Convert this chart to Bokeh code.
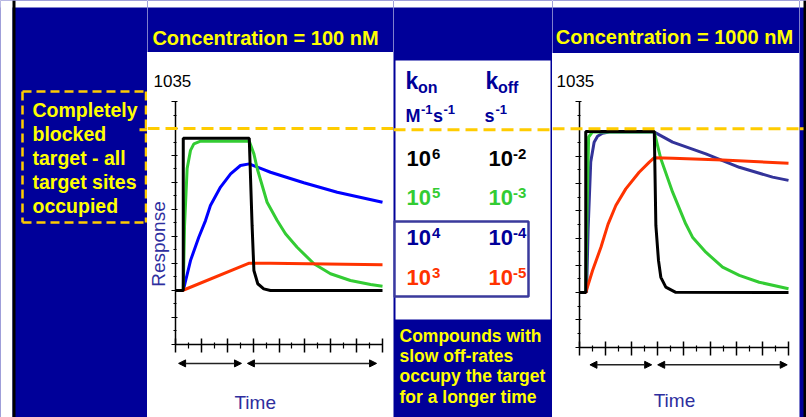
from bokeh.plotting import figure
from bokeh.layouts import row, column
from bokeh.models import Range1d, LinearAxis, FixedTicker, Span, Arrow, NormalHead, Label
from bokeh.embed import file_html
from bokeh.resources import INLINE
from bokeh.core.properties import value

NAVY = "#000099"
YELLOW = "#ffff00"
GOLD = "#ffcc00"
FONT = "Liberation Sans"
AXIS_BLUE = "#2e2e9e"
SHIFT = 0.33  # compensation (in em) for the svg text baseline placement

# ---------------- data ----------------
x_ticks = [0, 1, 2, 3, 4, 5, 6, 7, 8]
y_ticks = [0, 1, 2, 3, 4, 5, 6, 7, 8, 9]
y_top_label = "1035"
full_occupancy = 8.0

titles = ["Concentration = 100 nM", "Concentration = 1000 nM"]

# Panel 1: 100 nM
t1_black = [0, 0.30, 0.30, 2.85, 2.96, 3.03, 3.18, 3.41, 3.67, 8.0]
r1_black = [2.0, 2.0, 7.64, 7.64, 4.41, 2.74, 2.25, 2.06, 2.0, 2.0]
t1_green = [0.30, 0.35, 0.45, 0.58, 0.71, 0.97, 2.85, 3.03, 3.16, 3.54, 3.93, 4.25, 4.70, 5.35, 5.99, 6.76, 7.54, 8.0]
r1_green = [2.0, 4.41, 6.52, 7.19, 7.43, 7.53, 7.53, 7.06, 6.51, 5.27, 4.59, 4.10, 3.60, 2.99, 2.62, 2.37, 2.22, 2.16]
t1_blue = [0.30, 0.58, 0.90, 1.16, 1.35, 1.74, 2.13, 2.51, 2.85, 3.67, 4.96, 6.25, 8.0]
r1_blue = [2.0, 3.11, 3.97, 4.59, 5.15, 5.83, 6.32, 6.63, 6.69, 6.38, 5.99, 5.64, 5.27]
t1_red = [0, 0.27, 2.85, 3.67, 8.0]
r1_red = [2.0, 2.0, 3.01, 3.01, 2.95]

# Panel 2: 1000 nM
t2_black = [0, 0.25, 0.25, 2.87, 2.93, 3.03, 3.12, 3.31, 3.69, 8.0]
r2_black = [2.0, 2.0, 7.90, 7.90, 4.46, 3.18, 2.56, 2.20, 2.01, 2.0]
t2_green = [0.25, 0.30, 0.36, 0.50, 2.87, 3.12, 3.57, 4.07, 4.33, 4.84, 5.48, 6.12, 6.88, 8.0]
r2_green = [2.0, 5.0, 7.7, 7.88, 7.88, 6.90, 5.68, 4.52, 4.03, 3.48, 2.93, 2.63, 2.38, 2.14]
t2_blue = [0.28, 0.34, 0.44, 0.57, 0.70, 0.89, 1.15, 2.87, 3.57, 4.84, 6.12, 7.39, 8.0]
r2_blue = [2.0, 4.3, 6.78, 7.51, 7.73, 7.84, 7.88, 7.88, 7.51, 7.08, 6.59, 6.23, 6.11]
t2_red = [0, 0.25, 0.51, 0.83, 1.10, 1.40, 1.78, 2.29, 2.68, 2.87, 3.57, 5.48, 8.0]
r2_red = [2.0, 2.0, 2.81, 3.66, 4.50, 5.19, 5.80, 6.41, 6.78, 6.94, 6.92, 6.86, 6.74]

# association / dissociation phase arrows (time units)
phase1_start = [0.12, 2.78]
phase1_end = [2.55, 7.77]
phase2_start = [0.41, 3.00]
phase2_end = [2.77, 7.95]

# rate-constant table
kon_exp = ["6", "5", "4", "3"]
koff_exp = ["-2", "-3", "-4", "-5"]
row_colors = ["#000000", "#33cc33", "#000099", "#ff3300"]

left_note = ["Completely", "blocked", "target - all", "target sites", "occupied"]
mid_note = ["Compounds with", "slow off-rates", "occupy the target", "for a longer time"]

H = 417

# ---------------- helpers ----------------
def canvas(w, h, bg=NAVY, top_white=0):
    f = figure(width=w, height=h, x_range=Range1d(0, w), y_range=Range1d(h, 0),
               x_axis_location=None, y_axis_location=None, toolbar_location=None,
               output_backend="svg", min_border=0, background_fill_color=bg,
               border_fill_color=bg, outline_line_color=None)
    f.grid.visible = False
    if top_white:
        f.quad(left=[0], right=[w], top=[0], bottom=[top_white], fill_color="white", line_color=None)
    return f


def txt(f, x, y, s, size, color, bold=True, align="left"):
    f.text(x=[x], y=[y - SHIFT * size], text=[s], text_font=value(FONT),
           text_font_size=f"{size}px", text_color=color,
           text_font_style="bold" if bold else "normal",
           text_align=align, text_baseline="alphabetic")


def dashed_h(f, x0, x1, y):
    f.segment(x0=[x0], y0=[y], x1=[x1], y1=[y], line_color=GOLD, line_width=3, line_dash="12 6")


def plot_panel(w, h, xr, yr, series, phase_s, phase_e, phase_y, label_pos, time_pos, resp_pos=None):
    sx = w / (xr[1] - xr[0])
    sy = h / (yr[1] - yr[0])
    p = figure(width=w, height=h, x_range=Range1d(*xr), y_range=Range1d(*yr),
               x_axis_location=None, y_axis_location=None, toolbar_location=None,
               output_backend="svg", min_border=0, background_fill_color="white",
               border_fill_color="white", outline_line_color=None)
    p.grid.visible = False
    xa = LinearAxis(fixed_location=0, bounds=(x_ticks[0], x_ticks[-1]),
                    ticker=FixedTicker(ticks=x_ticks, minor_ticks=[v + 0.5 for v in x_ticks[:-1]]),
                    major_label_overrides={v: "" for v in x_ticks},
                    axis_line_width=1.5, major_tick_line_width=1.5, minor_tick_line_width=1.2,
                    major_tick_in=6, major_tick_out=8, minor_tick_in=2, minor_tick_out=4)
    ya = LinearAxis(fixed_location=0, bounds=(y_ticks[0], y_ticks[-1]),
                    ticker=FixedTicker(ticks=y_ticks, minor_ticks=[v + 0.5 for v in y_ticks[:-1]]),
                    major_label_overrides={v: "" for v in y_ticks},
                    axis_line_width=1.5, major_tick_line_width=1.2, minor_tick_line_width=1.0,
                    major_tick_in=2, major_tick_out=4, minor_tick_in=1, minor_tick_out=2)
    p.add_layout(xa, "below")
    p.add_layout(ya, "left")
    p.add_layout(Span(location=full_occupancy, dimension="width", line_color=GOLD,
                      line_width=3, line_dash="12 6"))
    for t, r, c in series:
        p.line(t, r, line_color=c, line_width=3)
    for s, e in zip(phase_s, phase_e):
        p.add_layout(Arrow(x_start=s, y_start=phase_y, x_end=e, y_end=phase_y,
                           line_color="#222222", line_width=1.5,
                           start=NormalHead(size=7, fill_color="black", line_color="black"),
                           end=NormalHead(size=7, fill_color="black", line_color="black")))
    p.add_layout(Label(x=label_pos[0], y=label_pos[1] + SHIFT * 17 / sy, text=y_top_label,
                       text_font=FONT, text_font_size="17px", text_color="black",
                       text_baseline="alphabetic"))
    p.add_layout(Label(x=time_pos[0], y=time_pos[1] + SHIFT * 19 / sy, text="Time", text_font=FONT,
                       text_font_size="19px", text_color=AXIS_BLUE, text_align="center",
                       text_baseline="alphabetic"))
    if resp_pos is not None:
        p.add_layout(Label(x=resp_pos[0] - SHIFT * 19 / sx, y=resp_pos[1], text="Response",
                           text_font=FONT, text_font_size="19px", text_color=AXIS_BLUE,
                           text_align="center", text_baseline="alphabetic", angle=1.5708))
    return p

# ---------------- left column (x 0..147) ----------------
left = canvas(147, H, top_white=7)
left.quad(left=[0], right=[12], top=[0], bottom=[H], fill_color="white", line_color=None)
left.quad(left=[12], right=[15], top=[0], bottom=[H], fill_color="black", line_color=None)
bx0, bx1, by0, by1 = 22, 145.5, 91, 222
left.multi_line(xs=[[bx0, bx1], [bx0, bx1], [bx0, bx0], [bx1, bx1]],
                ys=[[by0, by0], [by1, by1], [by0, by1], [by0, by1]],
                line_color=GOLD, line_width=2.5, line_dash="9 5")
dashed_h(left, 139, 147, 129.3)
for i, s in enumerate(left_note):
    txt(left, 32, 116 + 24 * i, s, 19.5, YELLOW)

# ---------------- panel 1 (x 147..393) ----------------
title1 = canvas(246, 52, top_white=7)
txt(title1, 118, 44, titles[0], 20, YELLOW, align="center")
plot1 = plot_panel(246, 361, (-1.082, 8.425), (-2.556, 10.815),
                   [(t1_blue, r1_blue, "#0000ff"), (t1_green, r1_green, "#33cc33"),
                    (t1_red, r1_red, "#ff3300"), (t1_black, r1_black, "#000000")],
                   phase1_start, phase1_end, -0.70, (-0.85, 9.556), (3.08, -2.39), (-0.425, 3.72))
foot1 = canvas(246, 4)
col1 = column(title1, plot1, foot1)

# ---------------- middle table (x 393..552) ----------------
mid = canvas(159, H, top_white=7)
mid.quad(left=[2], right=[157], top=[60], bottom=[319], fill_color="white", line_color=None)
dashed_h(mid, 0, 159, 129.3)
mid.quad(left=[0.5], right=[135], top=[221], bottom=[296], fill_color=None,
         line_color="#3a3a9c", line_width=2.5)
# headers
txt(mid, 12, 88, "k", 23, NAVY)
txt(mid, 24.5, 92, "on", 16, NAVY)
txt(mid, 92, 88, "k", 23, NAVY)
txt(mid, 104.5, 92, "off", 16, NAVY)
txt(mid, 12, 121, "M", 18, NAVY)
txt(mid, 27.5, 113, "-1", 13, NAVY)
txt(mid, 39.5, 121, "s", 18, NAVY)
txt(mid, 50, 113, "-1", 13, NAVY)
txt(mid, 91, 121, "s", 18, NAVY)
txt(mid, 102, 113, "-1", 13, NAVY)
for i, (ke, fe, c) in enumerate(zip(kon_exp, koff_exp, row_colors)):
    yb = 165 + 39.7 * i
    txt(mid, 13, yb, "10", 22, c)
    txt(mid, 38.5, yb - 7, ke, 15, c)
    txt(mid, 95, yb, "10", 22, c)
    txt(mid, 119.5, yb - 7, fe, 15, c)
for i, s in enumerate(mid_note):
    txt(mid, 6, 341 + 20.3 * i, s, 17.5, YELLOW)

# ---------------- panel 2 (x 552..799) ----------------
title2 = canvas(247, 53, top_white=7)
txt(title2, 122, 43.5, titles[1], 20, YELLOW, align="center")
plot2 = plot_panel(247, 358, (-1.021, 8.42), (-2.355, 10.758),
                   [(t2_blue, r2_blue, "#333399"), (t2_green, r2_green, "#33cc33"),
                    (t2_red, r2_red, "#ff3300"), (t2_black, r2_black, "#000000")],
                   phase2_start, phase2_end, -0.645, (-0.868, 9.55), (3.64, -2.20))
foot2 = canvas(247, 6)
col2 = column(title2, plot2, foot2)

# ---------------- right edge (x 799..806) ----------------
edge = canvas(7, H, top_white=7)
edge.quad(left=[4], right=[7], top=[0], bottom=[H], fill_color="black", line_color=None)
dashed_h(edge, 0, 4, 128.3)

layout = row(left, col1, mid, col2, edge)
open("out.html", "w").write(file_html(layout, INLINE))
